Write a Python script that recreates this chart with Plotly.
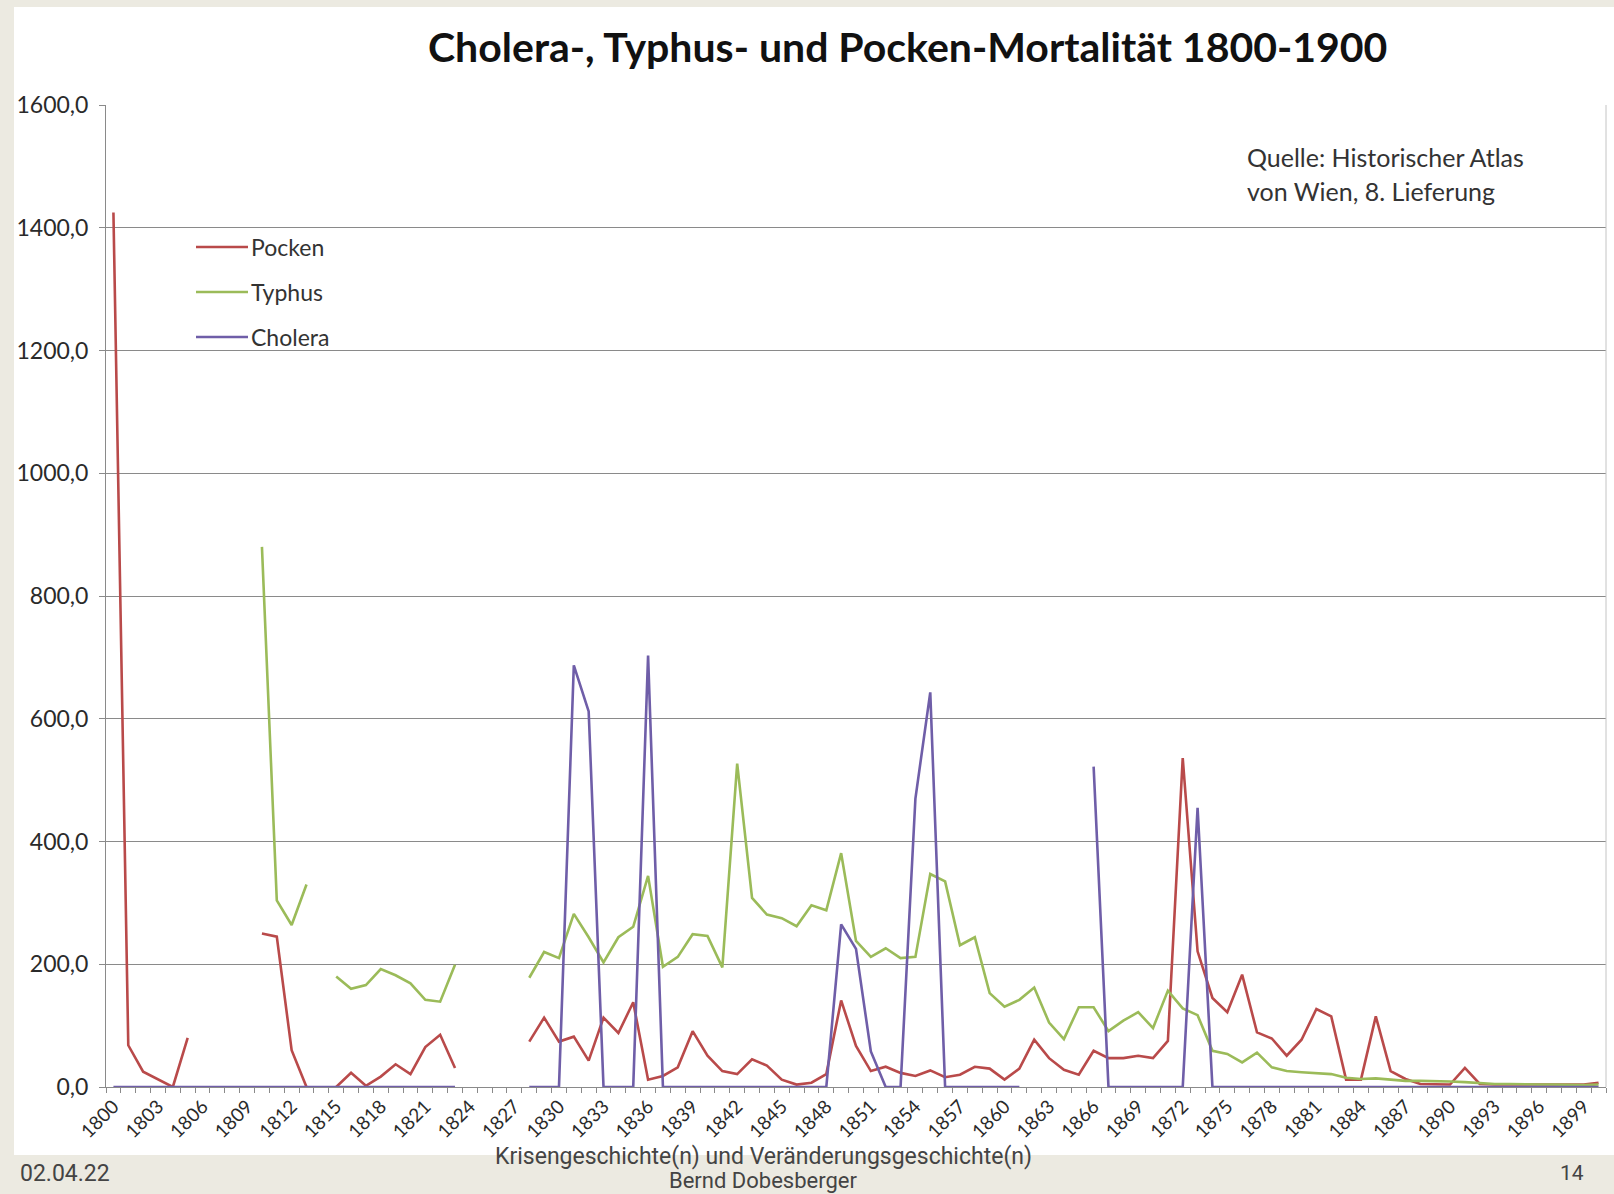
import plotly.graph_objects as go

years = list(range(1800, 1901))

pocken = [1425, 68, 25, 12, 0, 80, None, None, None, None,
          250, 245, 60, 0, None, 0, 23, 2, 17, 37,
          21, 65, 85, 31, None, None, None, None, 74, 113,
          74, 82, 43, 113, 88, 138, 12, 18, 32, 91,
          51, 26, 21, 45, 35, 12, 4, 7, 21, 141,
          67, 26, 33, 23, 18, 27, 16, 20, 33, 30,
          12, 30, 77, 47, 28, 20, 59, 47, 47, 51,
          47, 75, 536, 221, 145, 122, 183, 89, 79, 51,
          77, 127, 115, 12, 12, 115, 26, 13, 5, 5,
          4, 31, 5, 4, 4, 3, 3, 3, 3, 4, 7]

typhus = [None, None, None, None, None, None, None, None, None, None,
          880, 304, 264, 330, None, 180, 160, 166, 192, 182,
          169, 142, 139, 199, None, None, None, None, 178, 220,
          210, 282, 244, 203, 244, 261, 344, 196, 212, 249,
          246, 195, 527, 308, 281, 275, 262, 296, 288, 381,
          238, 212, 226, 210, 212, 347, 335, 231, 244, 153,
          131, 142, 162, 105, 78, 130, 130, 91, 108, 122,
          96, 157, 128, 117, 59, 54, 40, 56, 32, 26,
          24, 22, 21, 15, 13, 14, 12, 10, 10, 10,
          9, 8, 6, 5, 5, 4, 4, 4, 3, 3, 4]

cholera = [0, 0, 0, 0, 0, 0, 0, 0, 0, 0,
           0, 0, 0, 0, 0, 0, 0, 0, 0, 0,
           0, 0, 0, 0, None, None, None, None, 0, 0,
           0, 687, 612, 0, 0, 0, 703, 0, 0, 0,
           0, 0, 0, 0, 0, 0, 0, 0, 0, 265,
           225, 58, 0, 0, 470, 643, 0, 0, 0, 0,
           0, 0, None, None, None, None, 522, 0, 0, 0,
           0, 0, 0, 455, 0, 0, 0, 0, 0, 0,
           0, 0, 0, 0, 0, 0, 0, 0, 0, 0,
           0, 0, 0, 0, 0, 0, 0, 0, 0, 0, 0]

assert len(pocken) == len(typhus) == len(cholera) == len(years)

tick_years = list(range(1800, 1900, 3))
tick_labels = [str(y) for y in tick_years]
y_ticks = [0, 200, 400, 600, 800, 1000, 1200, 1400, 1600]

series_names = ["Pocken", "Typhus", "Cholera"]
series_colors = ["#B94A4A", "#9BBB59", "#6F5EA8"]
series_values = [pocken, typhus, cholera]

W, H = 1614, 1194
ML, MR, MT, MB = 106, 8, 105, 107
PW, PH = W - ML - MR, H - MT - MB


def px_x(p):
    return (p - ML) / PW


def px_y(p):
    return (H - MB - p) / PH


fig = go.Figure()
for name, color, vals in zip(series_names, series_colors, series_values):
    fig.add_trace(go.Scatter(
        x=years, y=vals, mode="lines", name=name, showlegend=False,
        line=dict(color=color, width=2.6), connectgaps=False,
    ))

fig.update_layout(
    width=W, height=H,
    margin=dict(l=ML, r=MR, t=MT, b=MB, pad=0),
    paper_bgcolor="#ECEAE1",
    plot_bgcolor="rgba(0,0,0,0)",
    separators=",.",
    font=dict(family="Lato, 'Open Sans', sans-serif", color="#222222"),
    showlegend=False,
    xaxis=dict(
        range=[1799.5, 1900.5], tickmode="array", tickvals=tick_years,
        ticktext=tick_labels, tickangle=-45, ticks="",
        tickfont=dict(size=19, color="#2A2A2A"),
        showgrid=False, zeroline=False,
        showline=True, linecolor="#8A8A8A", linewidth=1,
        minor=dict(ticks="outside", ticklen=5, tickcolor="#8A8A8A",
                   tickmode="linear", tick0=1799.5, dtick=1, showgrid=False),
    ),
    yaxis=dict(
        range=[0, 1600], tickmode="array", tickvals=y_ticks,
        tickformat=".1f", ticks="outside", ticklen=6, tickcolor="#8A8A8A",
        ticklabelstandoff=6,
        tickfont=dict(size=23, color="#2A2A2A"),
        showgrid=True, gridcolor="#8A8A8A", gridwidth=1,
        zeroline=False, showline=True, linecolor="#8A8A8A", linewidth=1,
    ),
)

shapes = [
    # white slide chart area
    dict(type="rect", xref="paper", yref="paper", layer="below",
         x0=px_x(14), x1=px_x(1620), y0=px_y(1155), y1=px_y(7),
         fillcolor="white", line=dict(width=0)),
    # right plot border
    dict(type="line", xref="paper", yref="paper", x0=1, x1=1, y0=0, y1=1,
         line=dict(color="#C4C4C4", width=1)),
]

annotations = [
    dict(text="<b>Cholera-, Typhus- und Pocken-Mortalität 1800-1900</b>",
         x=px_x(908), y=px_y(46), xref="paper", yref="paper",
         xanchor="center", yanchor="middle", showarrow=False,
         font=dict(size=41, color="#111111")),
    dict(text="Quelle: Historischer Atlas", x=px_x(1245), y=px_y(157),
         xref="paper", yref="paper", xanchor="left", yanchor="middle",
         showarrow=False, font=dict(size=25, color="#333333")),
    dict(text="von Wien, 8. Lieferung", x=px_x(1245), y=px_y(191),
         xref="paper", yref="paper", xanchor="left", yanchor="middle",
         showarrow=False, font=dict(size=25, color="#333333")),
    dict(text="02.04.22", x=px_x(18), y=px_y(1173), xref="paper", yref="paper",
         xanchor="left", yanchor="middle", showarrow=False,
         font=dict(family="Roboto, sans-serif", size=23, color="#444444")),
    dict(text="Krisengeschichte(n) und Veränderungsgeschichte(n)",
         x=px_x(763), y=px_y(1156), xref="paper", yref="paper",
         xanchor="center", yanchor="middle", showarrow=False,
         font=dict(family="Roboto, sans-serif", size=23, color="#444444")),
    dict(text="Bernd Dobesberger", x=px_x(763), y=px_y(1180),
         xref="paper", yref="paper", xanchor="center", yanchor="middle",
         showarrow=False,
         font=dict(family="Roboto, sans-serif", size=22, color="#444444")),
    dict(text="14", x=px_x(1572), y=px_y(1173), xref="paper", yref="paper",
         xanchor="center", yanchor="middle", showarrow=False,
         font=dict(family="Roboto, sans-serif", size=21, color="#444444")),
]

# manual legend (line sample + label), as in the original Excel chart
legend_y = [247, 292, 337]
for name, color, ly in zip(series_names, series_colors, legend_y):
    shapes.append(dict(type="line", xref="paper", yref="paper",
                       x0=px_x(196), x1=px_x(248), y0=px_y(ly), y1=px_y(ly),
                       line=dict(color=color, width=2.6)))
    annotations.append(dict(text=name, x=px_x(249), y=px_y(ly),
                            xref="paper", yref="paper", xanchor="left",
                            yanchor="middle", showarrow=False,
                            font=dict(size=23, color="#333333")))

fig.update_layout(shapes=shapes, annotations=annotations)

fig.write_html(
    "out.html",
    config={"displayModeBar": False},
    post_script="document.body.style.margin='0';document.body.style.overflow='hidden';",
)
